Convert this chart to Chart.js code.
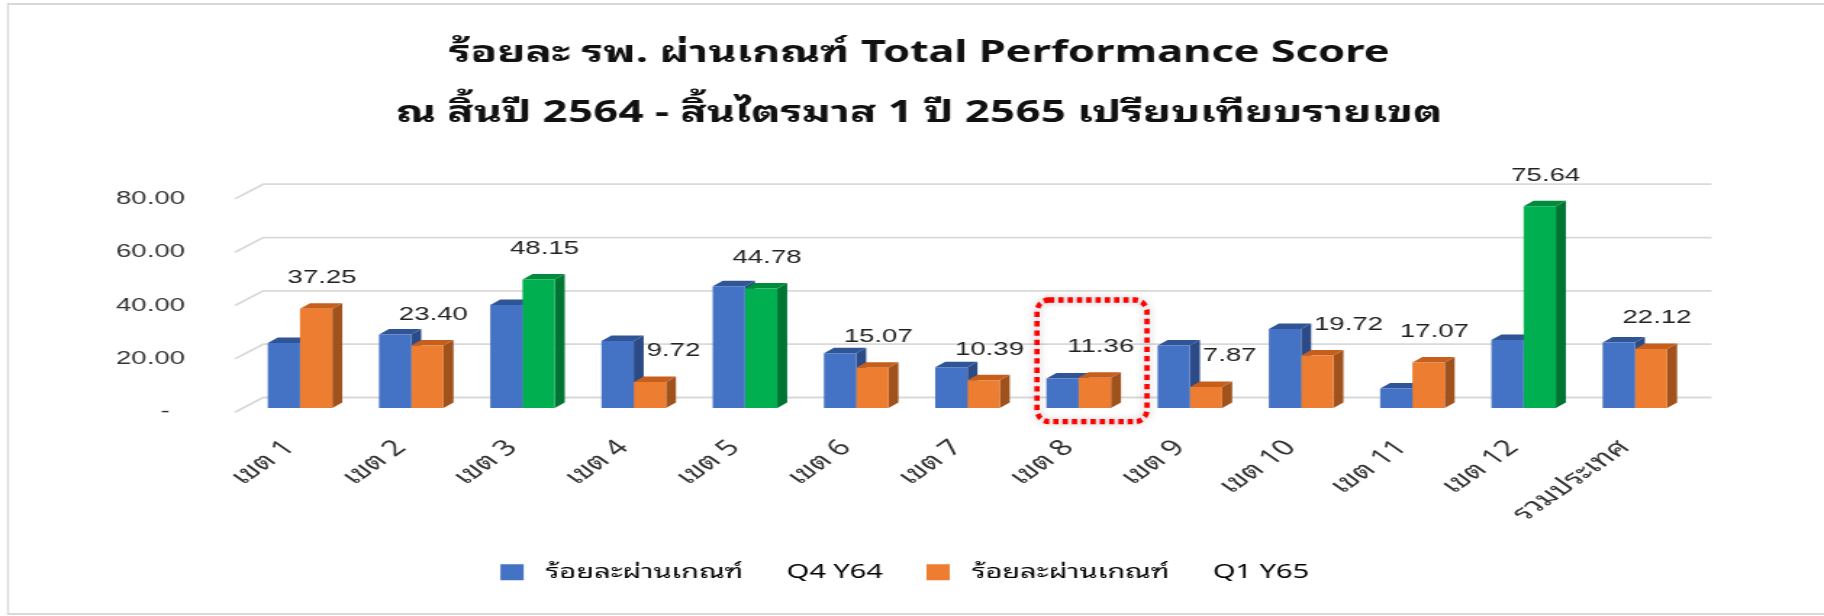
<!DOCTYPE html>
<html>
<head>
<meta charset="utf-8">
<script src="https://cdn.jsdelivr.net/npm/chart.js@4.4.1/dist/chart.umd.min.js"></script>
<style>
  html, body { margin: 0; padding: 0; background: #fff; overflow: hidden; }
</style>
</head>
<body>
<!-- drawn narrow and stretched wide, like the picture it copies -->
<canvas id="chart" width="1258" height="616" style="display:block;width:1824px;height:616px"></canvas>
<script>
const categories = ["เขต 1", "เขต 2", "เขต 3", "เขต 4", "เขต 5", "เขต 6", "เขต 7",
  "เขต 8", "เขต 9", "เขต 10", "เขต 11", "เขต 12", "รวมประเทศ"];
const seriesNames = ["ร้อยละผ่านเกณฑ์     \u2009Q4 Y64", "ร้อยละผ่านเกณฑ์     \u2009Q1 Y65"];
const q4y64 = [24.4, 27.6, 38.6, 25.1, 45.7, 20.5, 15.3, 11.1, 23.4, 29.6, 7.3, 25.5, 24.6];
const q1y65 = [37.25, 23.40, 48.15, 9.72, 44.78, 15.07, 10.39, 11.36, 7.87, 19.72, 17.07, 75.64, 22.12];
const yTicks = [0, 20, 40, 60, 80];
const titleLines = [
  "ร้อยละ รพ. ผ่านเกณฑ์ Total Performance Score",
  "ณ สิ้นปี 2564 - สิ้นไตรมาส 1 ปี 2565 เปรียบเทียบรายเขต"
];
const target = 40;          // Q1 Y65 bars at or above this are green
const highlightIndex = 7;   // เขต 8 gets the red dotted box

const STRETCH = 1824 / 1258;
const THAI = "'Noto Sans Thai Looped', Tahoma, Loma, Garuda, Waree, 'Noto Sans Thai', 'Noto Sans', sans-serif";
const NUM = "'Liberation Sans', Arial, sans-serif";

const BLUE = { front: "#4472C4", top: "#2F5597", side: "#2B4A86" };
const ORANGE = { front: "#ED7D31", top: "#C65F1C", side: "#A0521D" };
const GREEN = { front: "#00B050", top: "#008C3C", side: "#007433" };
const DX = 6.9, DY = -5.5;  // bar depth

const q1Colors = q1y65.map(v => (v >= target ? GREEN : ORANGE));

function faceColors(dsIndex, i) {
  return dsIndex === 0 ? BLUE : q1Colors[i];
}

// back wall grid lines and the 3D faces of the bars
const depth3d = {
  id: "depth3d",
  beforeDatasetsDraw(chart) {
    const { ctx, chartArea } = chart;
    const ys = chart.scales.y;
    ctx.save();
    ctx.strokeStyle = "#d9d9d9";
    ctx.lineWidth = 1.8;
    yTicks.forEach(v => {
      const py = ys.getPixelForValue(v);
      ctx.beginPath();
      ctx.moveTo(chartArea.left - 6.5, py + 4.2);
      ctx.lineTo(chartArea.left + 13, py - 10.5);
      ctx.lineTo(chartArea.right + 14.6, py - 10.5);
      ctx.stroke();
    });
    [0, 1].forEach(d => {
      chart.getDatasetMeta(d).data.forEach((bar, i) => {
        const { x, y, base, width } = bar.getProps(["x", "y", "base", "width"], true);
        const l = x - width / 2, r = x + width / 2;
        const c = faceColors(d, i);
        ctx.fillStyle = c.side;
        ctx.beginPath();
        ctx.moveTo(r, y);
        ctx.lineTo(r + DX, y + DY);
        ctx.lineTo(r + DX, base + DY);
        ctx.lineTo(r, base);
        ctx.closePath();
        ctx.fill();
        ctx.fillStyle = c.top;
        ctx.beginPath();
        ctx.moveTo(l, y);
        ctx.lineTo(l + DX, y + DY);
        ctx.lineTo(r + DX, y + DY);
        ctx.lineTo(r, y);
        ctx.closePath();
        ctx.fill();
      });
    });
    ctx.restore();
  },
  afterDatasetsDraw(chart) {
    // value labels over the Q1 Y65 bars, nudged right when the blue bar is in the way
    const ctx = chart.ctx;
    const blueMeta = chart.getDatasetMeta(0);
    ctx.save();
    ctx.font = "19px " + NUM;
    ctx.fillStyle = "#222";
    ctx.textBaseline = "middle";
    ctx.textAlign = "center";
    chart.getDatasetMeta(1).data.forEach((bar, i) => {
      const txt = q1y65[i].toFixed(2);
      const w = ctx.measureText(txt).width;
      const blue = blueMeta.data[i];
      const blueRight = blue.x + blue.width / 2 + DX;
      let cx = bar.x + 4.1;
      const cy = bar.y - 31;
      if (cx - w / 2 < blueRight && cy + 7 > blue.y + DY) {
        cx = blueRight + 2 + w / 2;
      }
      ctx.fillText(txt, cx, cy);
    });
    ctx.restore();
  },
  afterDraw(chart) {
    const ctx = chart.ctx;
    ctx.save();
    ctx.scale(1 / STRETCH, 1);
    // outer frame
    ctx.strokeStyle = "#d9d9d9";
    ctx.lineWidth = 2;
    ctx.beginPath();
    ctx.moveTo(1830, 4);
    ctx.lineTo(8, 4);
    ctx.lineTo(8, 614);
    ctx.lineTo(1830, 614);
    ctx.stroke();
    // red dotted box round เขต 8
    const cx = chart.scales.x.getPixelForValue(highlightIndex) * STRETCH;
    const y0 = chart.scales.y.getPixelForValue(0);
    const bx = cx - 41.7, by = y0 - 108, bw = 110, bh = 121.7, rad = 12;
    ctx.beginPath();
    ctx.moveTo(bx + rad, by);
    ctx.arcTo(bx + bw, by, bx + bw, by + bh, rad);
    ctx.arcTo(bx + bw, by + bh, bx, by + bh, rad);
    ctx.arcTo(bx, by + bh, bx, by, rad);
    ctx.arcTo(bx, by, bx + bw, by, rad);
    ctx.closePath();
    ctx.shadowColor = "rgba(0,0,0,0.3)";
    ctx.shadowBlur = 6;
    ctx.strokeStyle = "#ff0000";
    ctx.lineWidth = 5.3;
    ctx.setLineDash([5.3, 4]);
    ctx.stroke();
    ctx.restore();
  }
};

new Chart(document.getElementById("chart"), {
  type: "bar",
  data: {
    labels: categories,
    datasets: [
      {
        label: seriesNames[0],
        data: q4y64,
        backgroundColor: BLUE.front,
        barPercentage: 1,
        categoryPercentage: 0.58
      },
      {
        label: seriesNames[1],
        data: q1y65,
        backgroundColor: q1Colors.map(c => c.front),
        barPercentage: 1,
        categoryPercentage: 0.58
      }
    ]
  },
  options: {
    responsive: false,
    animation: false,
    devicePixelRatio: 1,
    layout: { padding: { left: 10, right: 0, top: 0, bottom: 23.7 } },
    plugins: {
      title: {
        display: true,
        text: titleLines,
        color: "#111",
        font: { family: THAI, size: 30, weight: "bold", lineHeight: "60px" },
        padding: { top: 24, bottom: 50.7 }
      },
      legend: {
        position: "bottom",
        labels: {
          boxWidth: 16,
          boxHeight: 16,
          padding: 10,
          color: "#222",
          font: { family: THAI, size: 20 },
          generateLabels(chart) {
            const fills = [BLUE.front, ORANGE.front];
            return seriesNames.map((name, i) => ({
              text: " " + name + "\u2003",
              fillStyle: fills[i],
              strokeStyle: fills[i],
              lineWidth: 0,
              datasetIndex: i,
              hidden: false
            }));
          }
        }
      },
      tooltip: { enabled: false }
    },
    scales: {
      x: {
        grid: { display: false, drawTicks: false },
        border: { display: false },
        ticks: {
          autoSkip: false,
          maxRotation: 45,
          minRotation: 45,
          padding: 27,
          labelOffset: -7,
          color: "#333",
          font: { family: THAI, size: 22 }
        },
        afterFit(s) { s.height = 144.3; }
      },
      y: {
        min: 0,
        max: 80,
        grid: { display: false, drawTicks: false },
        border: { display: false },
        ticks: {
          stepSize: 20,
          padding: 41,
          labelOffset: 4,
          color: "#333",
          font: { family: NUM, size: 19 },
          callback: v => (v === 0 ? "-\u2007" : v.toFixed(2))
        },
        afterFit(s) { s.width = 158.55; }
      },
      yRight: {
        position: "right",
        grid: { display: false, drawTicks: false },
        border: { display: false },
        ticks: { display: false },
        afterFit(s) { s.width = 92.1; }
      }
    }
  },
  plugins: [depth3d]
});
</script>
</body>
</html>
